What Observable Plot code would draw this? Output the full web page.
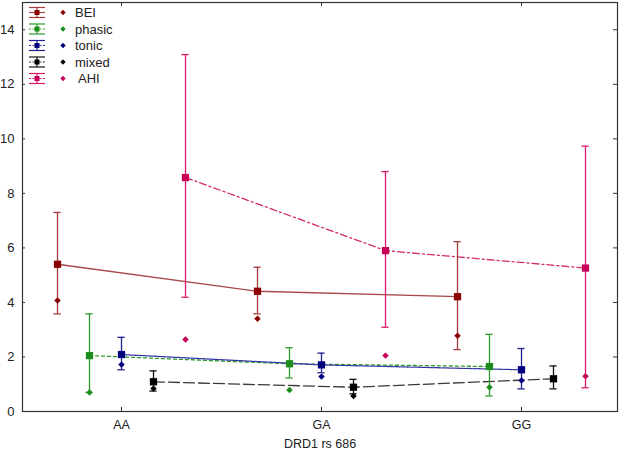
<!DOCTYPE html>
<html>
<head>
<meta charset="utf-8">
<script src="https://cdn.jsdelivr.net/npm/d3@7"></script>
<script src="https://cdn.jsdelivr.net/npm/@observablehq/plot@0.6"></script>
<style>
  html, body { margin: 0; padding: 0; background: #fff; }
  #chart svg { display: block; }
</style>
</head>
<body>
<div id="chart"></div>
<script>
// ---- data ----
const genotypes = ["AA", "GA", "GG"];
const seriesNames = ["BEI", "phasic", "tonic", "mixed", "AHI"];

const BEI_mean   = [5.40, 4.41, 4.21];
const BEI_low    = [3.58, 3.58, 2.27];
const BEI_high   = [7.30, 5.29, 6.23];
const BEI_median = [4.07, 3.40, 2.78];

const phasic_mean   = [2.05, 1.75, 1.65];
const phasic_low    = [0.70, 1.23, 0.57];
const phasic_high   = [3.58, 2.34, 2.83];
const phasic_median = [0.70, 0.79, 0.89];

const tonic_mean   = [2.09, 1.71, 1.53];
const tonic_low    = [1.53, 1.42, 0.83];
const tonic_high   = [2.72, 2.14, 2.31];
const tonic_median = [1.72, 1.28, 1.14];

const mixed_mean   = [1.09, 0.89, 1.20];
const mixed_low    = [0.75, 0.65, 0.83];
const mixed_high   = [1.49, 1.18, 1.67];
const mixed_median = [0.84, 0.57, 1.18];

const AHI_mean   = [8.58, 5.90, 5.26];
const AHI_low    = [4.19, 3.09, 0.87];
const AHI_high   = [13.09, 8.80, 9.73];
const AHI_median = [2.64, 2.05, 1.29];

const yTicks = [0, 2, 4, 6, 8, 10, 12, 14];
const xTicks = [0, 1, 2];
const xLabel = "DRD1 rs 686";

// ---- styles ----
const styles = {
  BEI:    {mark: "#8b0000", bar: "#a83a3a", line: "#a84848", dash: null,        lw: 1.3},
  phasic: {mark: "#1c8c1c", bar: "#2a9a2a", line: "#2a9a2a", dash: "3,3",       lw: 1.3},
  tonic:  {mark: "#00007f", bar: "#1f1f8f", line: "#3535a5", dash: "1,1",       lw: 1.3},
  mixed:  {mark: "#000000", bar: "#111111", line: "#3a3a3a", dash: "11,4",      lw: 1.3},
  AHI:    {mark: "#c8005a", bar: "#dc1a6c", line: "#d42a70", dash: "7,3,2,3",   lw: 1.3}
};

const src = {
  BEI: [BEI_mean, BEI_low, BEI_high, BEI_median],
  phasic: [phasic_mean, phasic_low, phasic_high, phasic_median],
  tonic: [tonic_mean, tonic_low, tonic_high, tonic_median],
  mixed: [mixed_mean, mixed_low, mixed_high, mixed_median],
  AHI: [AHI_mean, AHI_low, AHI_high, AHI_median]
};

const W = 622, H = 454, ML = 22, MR = 5, MT = 2, MB = 43;
const FW = W - ML - MR, FH = H - MT - MB;

const dodge = 0.16;      // horizontal offset between series (in genotype units)
const capHalf = 0.018;   // half-width of error bar caps

const rows = [];
seriesNames.forEach((s, si) => {
  const [m, lo, hi, md] = src[s];
  genotypes.forEach((g, gi) => {
    rows.push({series: s, genotype: g, x: gi + (si - 2) * dodge,
               mean: m[gi], low: lo[gi], high: hi[gi], median: md[gi]});
  });
});

const marks = [];
// lines
seriesNames.forEach(s => {
  const st = styles[s];
  marks.push(Plot.line(rows.filter(d => d.series === s), {
    x: "x", y: "mean", stroke: st.line, strokeWidth: st.lw,
    strokeDasharray: st.dash, curve: "linear"
  }));
});
// error bars
seriesNames.forEach(s => {
  const st = styles[s];
  const data = rows.filter(d => d.series === s);
  marks.push(Plot.ruleX(data, {x: "x", y1: "low", y2: "high", stroke: st.bar, strokeWidth: 1.3}));
  marks.push(Plot.ruleY(data, {y: "high", x1: d => d.x - capHalf, x2: d => d.x + capHalf, stroke: st.bar, strokeWidth: 1.3}));
  marks.push(Plot.ruleY(data, {y: "low", x1: d => d.x - capHalf, x2: d => d.x + capHalf, stroke: st.bar, strokeWidth: 1.3}));
});
// medians (diamonds) and means (squares)
seriesNames.forEach(s => {
  const st = styles[s];
  const data = rows.filter(d => d.series === s);
  marks.push(Plot.dot(data, {x: "x", y: "median", symbol: "diamond2", r: 2.9, fill: st.mark, stroke: "none"}));
  marks.push(Plot.dot(data, {x: "x", y: "mean", symbol: "square", r: 4.1, fill: st.mark, stroke: "none"}));
});

const chart = Plot.plot({
  width: W,
  height: H,
  marginLeft: ML,
  marginRight: MR,
  marginTop: MT,
  marginBottom: MB,
  style: {fontFamily: "'Liberation Sans', Arial, sans-serif", fontSize: "12px", color: "#222", background: "#fff"},
  x: {domain: [-0.495, 2.48]},
  y: {domain: [0, 15]},
  marks: [
    Plot.axisY(yTicks, {anchor: "left", tickSize: 0, tickPadding: 8, fontSize: 13, label: null}),
    Plot.axisX(xTicks, {anchor: "bottom", tickSize: 0, tickPadding: 9, tickFormat: i => genotypes[i], fontSize: 12.5, label: null}),
    // inward ticks
    Plot.tickY(yTicks, {y: d => d, insetRight: FW - 3, stroke: "#333"}),
    Plot.tickY(yTicks, {y: d => d, insetLeft: FW - 4, stroke: "#333"}),
    Plot.tickX(xTicks, {x: d => d, insetTop: FH - 4, stroke: "#333"}),
    Plot.tickX(xTicks, {x: d => d, insetBottom: FH - 4, stroke: "#333"}),
    Plot.frame({stroke: "#333", strokeWidth: 1.2}),
    Plot.text([xLabel], {frameAnchor: "bottom", dy: 36, fontSize: 12.5, fill: "#222"}),
    ...marks
  ]
});

// ---- legend inside top-left of the frame ----
const svg = d3.select(chart);
const lg = svg.append("g").attr("class", "legend").attr("text-anchor", "start");
seriesNames.forEach((s, i) => {
  const st = styles[s];
  const cy = 12.5 + i * 16.5;
  const gx = 37;
  const g = lg.append("g");
  g.append("line").attr("x1", gx - 8).attr("x2", gx + 8).attr("y1", cy - 5).attr("y2", cy - 5).attr("stroke", st.bar).attr("stroke-width", 1.2);
  g.append("line").attr("x1", gx - 8).attr("x2", gx + 8).attr("y1", cy + 5).attr("y2", cy + 5).attr("stroke", st.bar).attr("stroke-width", 1.2);
  g.append("line").attr("x1", gx - 8).attr("x2", gx + 8).attr("y1", cy).attr("y2", cy).attr("stroke", st.line).attr("stroke-width", 1.2).attr("stroke-dasharray", st.dash ? "2,1.5" : null);
  g.append("line").attr("x1", gx).attr("x2", gx).attr("y1", cy - 5).attr("y2", cy + 5).attr("stroke", st.bar).attr("stroke-width", 1.2);
  g.append("rect").attr("x", gx - 2.5).attr("y", cy - 2.5).attr("width", 5).attr("height", 5).attr("fill", st.mark);
  g.append("path").attr("d", d3.symbol(d3.symbolDiamond2, 18)()).attr("transform", `translate(63,${cy})`).attr("fill", st.mark);
  g.append("text").attr("x", s === "AHI" ? 78 : 75).attr("y", cy).attr("dy", "0.35em")
    .attr("text-anchor", "start")
    .attr("font-size", 13).attr("fill", "#222").attr("font-family", "'Liberation Sans', Arial, sans-serif").text(s);
});

document.getElementById("chart").appendChild(chart);
</script>
</body>
</html>
